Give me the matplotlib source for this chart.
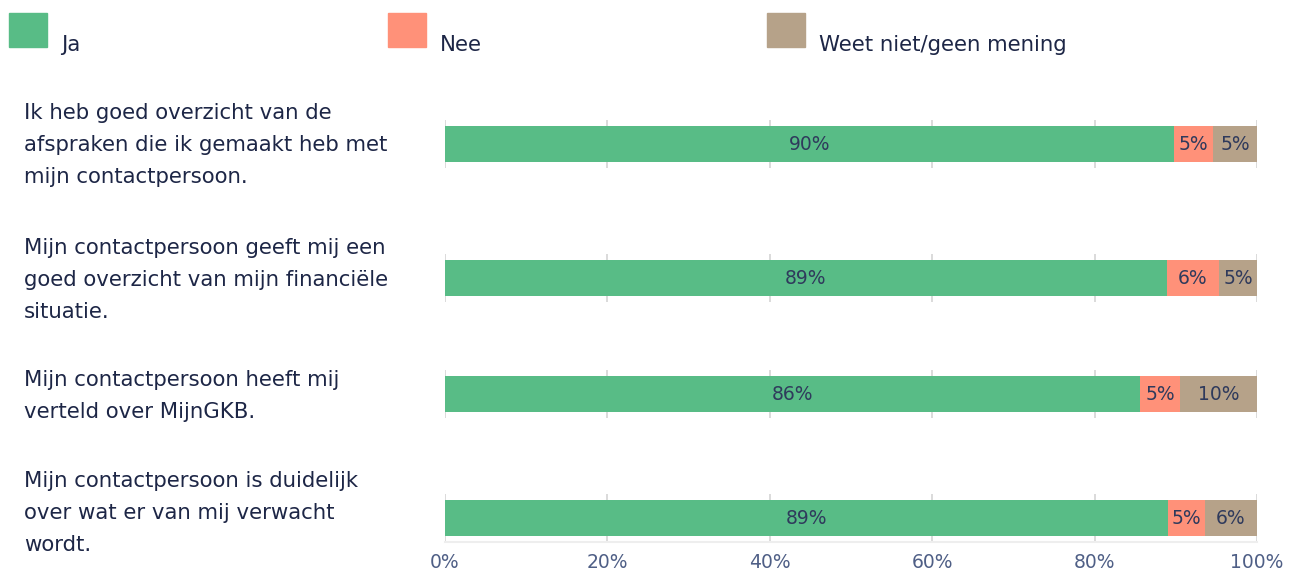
import matplotlib.pyplot as plt

questions = [
    "Ik heb goed overzicht van de\nafspraken die ik gemaakt heb met\nmijn contactpersoon.",
    "Mijn contactpersoon geeft mij een\ngoed overzicht van mijn financiële\nsituatie.",
    "Mijn contactpersoon heeft mij\nverteld over MijnGKB.",
    "Mijn contactpersoon is duidelijk\nover wat er van mij verwacht\nwordt.",
]
ja = [89.8, 88.9, 85.6, 89.0]
nee = [4.8, 6.4, 4.9, 4.6]
weet = [5.4, 4.7, 9.6, 6.4]
series_names = ["Ja", "Nee", "Weet niet/geen mening"]
colors = ["#58bc86", "#ff9179", "#b6a289"]
ticks = [0, 20, 40, 60, 80, 100]
tick_labels = ["0%", "20%", "40%", "60%", "80%", "100%"]

W, H = 1293, 575
fig = plt.figure(figsize=(W / 100, H / 100), dpi=100)

text_col = "#1d2646"
tick_col = "#4f5f86"
val_col = "#2f3a5c"

# row centres in pixels (layout): bars and their question text
centers = [144, 278, 394, 518]
label_centers = [145, 280, 396, 513]
ax_h = 48
ax_left, ax_w = 445, 812

for i, q in enumerate(questions):
    c = centers[i]
    ax = fig.add_axes([ax_left / W, 1 - (c + ax_h / 2) / H, ax_w / W, ax_h / H])
    vals = [ja[i], nee[i], weet[i]]
    left = 0
    for v, col in zip(vals, colors):
        ax.barh(0, v, left=left, height=0.75, color=col, zorder=2)
        ax.text(left + v / 2, 0, f"{round(v)}%", ha="center", va="center",
                fontsize=13.5, color=val_col, family="DejaVu Sans", zorder=3)
        left += v
    ax.set_xlim(0, 100)
    ax.set_ylim(-0.5, 0.5)
    ax.set_yticks([])
    ax.set_xticks(ticks)
    ax.grid(axis="x", color="#d4d4d4", linewidth=1.2, zorder=0)
    for s in ax.spines.values():
        s.set_visible(False)
    ax.tick_params(axis="x", length=0, pad=8)
    if i == len(questions) - 1:
        ax.spines["bottom"].set_visible(True)
        ax.spines["bottom"].set_color("#eeeeee")
        ax.spines["bottom"].set_linewidth(1.5)
        ax.set_xticklabels(tick_labels, fontsize=13.5, color=tick_col, family="DejaVu Sans")
    else:
        ax.set_xticklabels([])
    fig.text(24 / W, 1 - label_centers[i] / H, q, ha="left", va="center", fontsize=15.3,
             color=text_col, linespacing=1.78, family="DejaVu Sans")

# legend
leg_x = [9, 388, 767]
for x, name, col in zip(leg_x, series_names, colors):
    fig.patches.append(plt.Rectangle((x / W, 1 - 47 / H), 38 / W, 34 / H,
                                     transform=fig.transFigure, color=col))
    fig.text((x + 52) / W, 1 - 45 / H, name, ha="left", va="center",
             fontsize=15.3, color=text_col, family="DejaVu Sans")

fig.savefig("out.png", dpi=100)
